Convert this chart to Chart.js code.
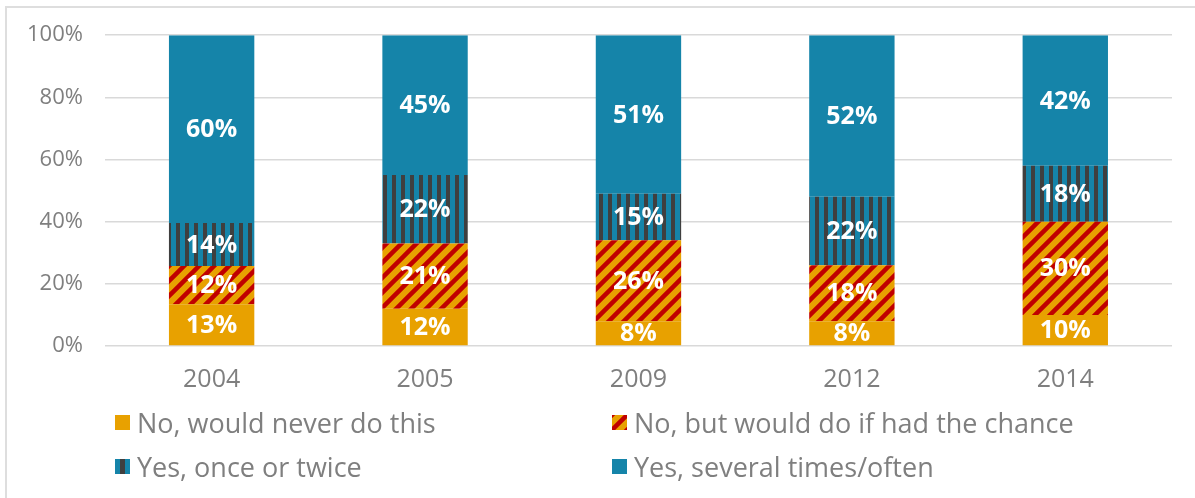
<!DOCTYPE html>
<html>
<head>
<meta charset="utf-8">
<script src="https://cdn.jsdelivr.net/npm/chart.js@4"></script>
<style>
  html, body { margin: 0; padding: 0; background: #fff; }
  .frame {
    position: relative;
    width: 1195px;
    height: 498px;
    overflow: hidden;
  }
  .frame::before {
    content: "";
    position: absolute;
    left: 5px;
    top: 6px;
    right: -10px;
    bottom: -10px;
    border-left: 2px solid #dedede;
    border-top: 2px solid #dedede;
    pointer-events: none;
  }
  #chartWrap { position: absolute; left: 0; top: 0; width: 1195px; height: 498px; }
  .legend {
    position: absolute;
    font-family: "Open Sans", sans-serif;
    font-size: 27px;
    color: #7f7f7f;
  }
  .legend-item {
    position: absolute;
    display: flex;
    align-items: center;
    white-space: nowrap;
  }
  .legend-item canvas { width: 15px; height: 15px; margin-right: 7px; }
</style>
</head>
<body>
<div class="frame">
  <div id="chartWrap"><canvas id="chart"></canvas></div>
  <div class="legend" id="legend"></div>
</div>
<script>
// DATA
const years = ["2004", "2005", "2009", "2012", "2014"];
const seriesNames = [
  "No, would never do this",
  "No, but would do if had the chance",
  "Yes, once or twice",
  "Yes, several times/often",
];
const neverDo = [13.4, 12, 8, 8, 10];
const wouldDo = [12.3, 21, 26, 18, 30];
const onceTwice = [13.9, 22, 15, 22, 18];
const severalTimes = [60.4, 45, 51, 52, 42];
const yTicks = [0, 20, 40, 60, 80, 100];

// PATTERNS
const ORANGE = "#e8a100";
const RED = "#c00000";
const TEAL = "#1584a9";
const DARK = "#3f3f3f";

function diagPattern(ctx) {
  const s = 15;
  const c = document.createElement("canvas");
  c.width = s; c.height = s;
  const g = c.getContext("2d");
  g.fillStyle = ORANGE;
  g.fillRect(0, 0, s, s);
  g.strokeStyle = RED;
  g.lineWidth = 4.5;
  g.beginPath();
  g.moveTo(-2, s + 2); g.lineTo(s + 2, -2);
  g.moveTo(-s / 2 - 2, s / 2 + 2); g.lineTo(s / 2 + 2, -s / 2 - 2);
  g.moveTo(s / 2 - 2, 1.5 * s + 2); g.lineTo(1.5 * s + 2, s / 2 - 2);
  g.stroke();
  return ctx.createPattern(c, "repeat");
}

function vertPattern(ctx) {
  const c = document.createElement("canvas");
  c.width = 9; c.height = 2;
  const g = c.getContext("2d");
  g.fillStyle = TEAL;
  g.fillRect(0, 0, 9, 2);
  g.fillStyle = DARK;
  g.fillRect(5, 0, 4, 2);
  return ctx.createPattern(c, "repeat");
}

const canvas = document.getElementById("chart");
const ctx = canvas.getContext("2d");
const fills = [ORANGE, diagPattern(ctx), vertPattern(ctx), TEAL];

// LABELS INSIDE SEGMENTS
const segLabels = {
  id: "segLabels",
  afterDatasetsDraw(chart) {
    const c = chart.ctx;
    c.save();
    c.fillStyle = "#ffffff";
    c.font = "bold 25px 'Open Sans', sans-serif";
    c.textAlign = "center";
    c.textBaseline = "middle";
    chart.data.datasets.forEach((ds, i) => {
      const meta = chart.getDatasetMeta(i);
      meta.data.forEach((bar, j) => {
        const v = ds.data[j];
        c.fillText(Math.round(v) + "%", bar.x, (bar.y + bar.base) / 2 + 1);
      });
    });
    c.restore();
  },
};

const datasets = [neverDo, wouldDo, onceTwice, severalTimes].map((d, i) => ({
  label: seriesNames[i],
  data: d,
  backgroundColor: fills[i],
  borderWidth: 0,
  barPercentage: 0.4,
  categoryPercentage: 1.0,
}));

new Chart(ctx, {
  type: "bar",
  data: { labels: years, datasets },
  plugins: [segLabels],
  options: {
    responsive: true,
    maintainAspectRatio: false,
    animation: false,
    layout: { padding: { left: 5, right: 23, top: 25, bottom: 92 } },
    plugins: {
      legend: { display: false },
      tooltip: { enabled: false },
    },
    scales: {
      x: {
        stacked: true,
        grid: { display: false },
        border: { display: false },
        ticks: {
          color: "#7f7f7f",
          font: { family: "'Open Sans', sans-serif", size: 25 },
          padding: 11,
        },
      },
      y: {
        stacked: true,
        min: 0,
        max: 100,
        afterBuildTicks: (axis) => {
          axis.ticks = yTicks.map((v) => ({ value: v }));
        },
        grid: { color: "#d9d9d9", lineWidth: 1.5, drawTicks: false },
        border: { display: false },
        ticks: {
          color: "#7f7f7f",
          font: { family: "'Open Sans', sans-serif", size: 22 },
          padding: 22,
          callback: (v) => v + "%",
        },
      },
    },
  },
});

// HTML LEGEND
const legendPos = [
  { left: 115, top: 404 },
  { left: 612, top: 404 },
  { left: 115, top: 448 },
  { left: 612, top: 448 },
];
const legend = document.getElementById("legend");
seriesNames.forEach((name, i) => {
  const item = document.createElement("div");
  item.className = "legend-item";
  item.style.left = legendPos[i].left + "px";
  item.style.top = legendPos[i].top + "px";
  const sw = document.createElement("canvas");
  sw.width = 15; sw.height = 15;
  const sctx = sw.getContext("2d");
  if (i === 2) {
    sctx.fillStyle = TEAL; sctx.fillRect(0, 0, 15, 15);
    sctx.fillStyle = DARK; sctx.fillRect(5, 0, 5, 15);
  } else if (i === 1) {
    sctx.fillStyle = diagPattern(sctx); sctx.fillRect(0, 0, 15, 15);
  } else {
    sctx.fillStyle = fills[i]; sctx.fillRect(0, 0, 15, 15);
  }
  const label = document.createElement("span");
  label.textContent = name;
  item.appendChild(sw);
  item.appendChild(label);
  legend.appendChild(item);
});
</script>
</body>
</html>
